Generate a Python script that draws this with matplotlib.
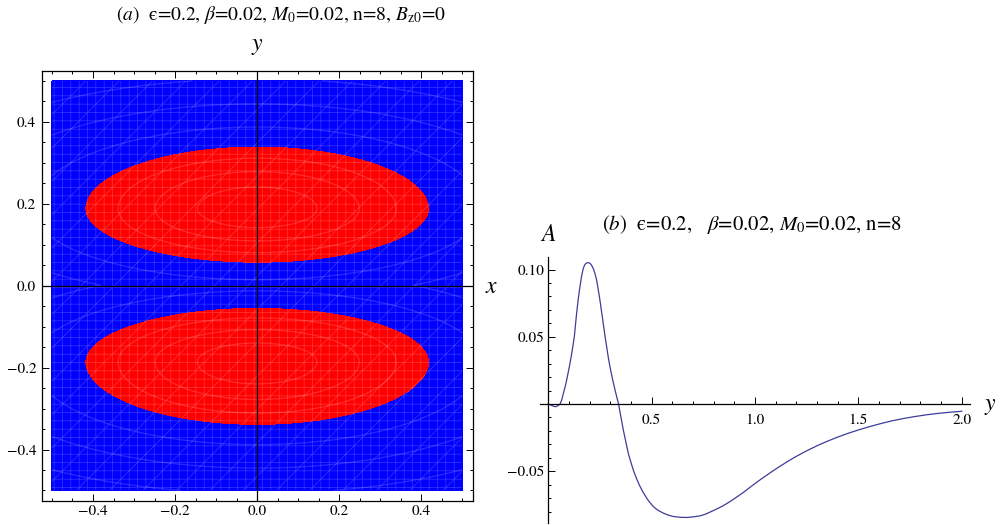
import numpy as np
import matplotlib
matplotlib.use("Agg")
import matplotlib.pyplot as plt
from matplotlib.patches import Rectangle
from matplotlib.ticker import FixedLocator, FixedFormatter

plt.rcParams["font.family"] = ["STIXGeneral", "DejaVu Serif"]
plt.rcParams["mathtext.fontset"] = "stix"
plt.rcParams["hatch.linewidth"] = 0.5

# ---- panel (a): two red lobes inside a blue square ----
lobe_cx = [0.0, 0.0]
lobe_cy = [0.188, -0.186]          # height of widest point
lobe_half_w = [0.42, 0.42]
lobe_top = [0.341, -0.053]
lobe_bottom = [0.055, -0.341]
box_half = 0.5
ring_levels = [0.12, 0.35, 0.65, 1.7, 2.8, 4.3]

# ---- panel (b): A(y) ----
curve_y = [0.0, 0.008, 0.016, 0.026, 0.037, 0.047, 0.057, 0.065, 0.073, 0.081,
           0.089, 0.097, 0.105, 0.115, 0.126, 0.137, 0.145, 0.153, 0.161, 0.169,
           0.176, 0.182, 0.188, 0.1935, 0.200, 0.206, 0.212, 0.218, 0.226, 0.234,
           0.242, 0.250, 0.258, 0.266, 0.274, 0.2825, 0.290, 0.2985, 0.310, 0.323,
           0.340, 0.350, 0.363, 0.375, 0.387, 0.399, 0.411, 0.427, 0.444, 0.460,
           0.476, 0.490, 0.508, 0.530, 0.557, 0.580, 0.605, 0.640, 0.670, 0.700,
           0.734, 0.760, 0.798, 0.840, 0.879, 0.940, 0.992, 1.030, 1.073, 1.110,
           1.153, 1.190, 1.234, 1.270, 1.315, 1.350, 1.395, 1.450, 1.500, 1.550,
           1.605, 1.660, 1.718, 1.770, 1.831, 1.890, 1.944, 2.0]
curve_A = [0.0, -0.0005, -0.001, -0.0017, -0.002, -0.0012, 0.0, 0.003, 0.0079, 0.0125,
           0.0178, 0.024, 0.0302, 0.039, 0.050, 0.0673, 0.078, 0.0871, 0.095, 0.1007,
           0.1035, 0.1046, 0.1051, 0.1052, 0.1048, 0.1040, 0.1025, 0.1007, 0.097, 0.0921,
           0.085, 0.0772, 0.0685, 0.0599, 0.051, 0.0425, 0.035, 0.0277, 0.019, 0.0104,
           0.0, -0.0085, -0.0193, -0.028, -0.0366, -0.043, -0.049, -0.0555, -0.0614, -0.066,
           -0.070, -0.073, -0.0763, -0.079, -0.0812, -0.0826, -0.0837, -0.0843, -0.0844, -0.0840,
           -0.0832, -0.0820, -0.0793, -0.0762, -0.0726, -0.0662, -0.0601, -0.0558, -0.0512, -0.0474,
           -0.0432, -0.0398, -0.0361, -0.0333, -0.0300, -0.0277, -0.0249, -0.0218, -0.0193, -0.0170,
           -0.0147, -0.0126, -0.0108, -0.0094, -0.0080, -0.0069, -0.0061, -0.0054]

W, H = 1004, 525
fig = plt.figure(figsize=(W / 100, H / 100), dpi=100)

def px(x, y):
    return x / W, 1 - y / H

# ---------------- left panel ----------------
ax1 = fig.add_axes([41.7 / W, (H - 500.7) / H, 431 / W, 430 / H])
xs = np.linspace(-box_half, box_half, 700)
X, Y = np.meshgrid(xs, xs)
field = np.full(X.shape, np.inf)
for cx, cy, a, t, b in zip(lobe_cx, lobe_cy, lobe_half_w, lobe_top, lobe_bottom):
    semi = np.where(Y > cy, t - cy, cy - b)
    r = ((X - cx) / a) ** 2 + ((Y - cy) / semi) ** 2
    field = np.minimum(field, r)
ax1.contourf(X, Y, field, levels=[0, 1, 1e9], colors=["#ff0000", "#0000ff"])
ax1.contour(X, Y, field, levels=ring_levels, colors=[(1, 1, 1, 0.15)], linewidths=1.0)
ax1.add_patch(Rectangle((-box_half, -box_half), 2 * box_half, 2 * box_half, fill=False,
                        hatch="++/", edgecolor=(1, 1, 1, 0.22), lw=0))
ax1.axhline(0, color="k", lw=0.9)
ax1.axvline(0, color="k", lw=0.9)
ax1.set_xlim(-0.525, 0.525)
ax1.set_ylim(-0.525, 0.525)
major = [-0.4, -0.2, 0.0, 0.2, 0.4]
minor = [v / 100 for v in range(-50, 51, 5)]
for axis in (ax1.xaxis, ax1.yaxis):
    axis.set_major_locator(FixedLocator(major))
    axis.set_minor_locator(FixedLocator(minor))
    axis.set_major_formatter(FixedFormatter(["\u22120.4", "\u22120.2", "0.0", "0.2", "0.4"]))
ax1.tick_params(which="both", direction="in", top=True, right=True, width=0.7, labelsize=11)
ax1.tick_params(which="major", length=5)
ax1.tick_params(which="minor", length=2.5)
ax1.tick_params(axis="x", pad=3)
ax1.tick_params(axis="y", pad=4)
for s in ax1.spines.values():
    s.set_linewidth(0.9)

fig.text(*px(281, 15), r"($a$)  ϵ=0.2, $\beta$=0.02, $M_0$=0.02, n=8, $B_{\rm z0}$=0",
         ha="center", va="center", fontsize=14)
fig.text(*px(257, 46), r"$y$", ha="center", va="center", fontsize=17)
fig.text(*px(492, 287), r"$x$", ha="center", va="center", fontsize=17)

# ---------------- right panel ----------------
ax2 = fig.add_axes([540 / W, (H - 522.7) / H, 430 / W, 266 / H])
ax2.plot(curve_y, curve_A, color="#3d3d99", lw=0.9)
ax2.set_xlim(-0.04, 2.04)
ax2.set_ylim(-0.0883, 0.1096)
ax2.spines["left"].set_position(("data", 0))
ax2.spines["bottom"].set_position(("data", 0))
ax2.spines["top"].set_visible(False)
ax2.spines["right"].set_visible(False)
ax2.xaxis.set_major_locator(FixedLocator([0.5, 1.0, 1.5, 2.0]))
ax2.xaxis.set_major_formatter(FixedFormatter(["0.5", "1.0", "1.5", "2.0"]))
ax2.xaxis.set_minor_locator(FixedLocator([v / 10 for v in range(1, 21)]))
ax2.yaxis.set_major_locator(FixedLocator([-0.05, 0.05, 0.10]))
ax2.yaxis.set_major_formatter(FixedFormatter(["\u22120.05", "0.05", "0.10"]))
ax2.yaxis.set_minor_locator(FixedLocator([v / 100 for v in range(-8, 11)]))
ax2.tick_params(which="both", direction="in", width=0.7, labelsize=11)
ax2.tick_params(which="major", length=5)
ax2.tick_params(which="minor", length=2.5)
ax2.tick_params(axis="x", pad=7)
ax2.tick_params(axis="y", pad=3)
for s in ax2.spines.values():
    s.set_linewidth(0.9)

fig.text(*px(752, 225), r"($b$)  ϵ=0.2,   $\beta$=0.02, $M_0$=0.02, n=8",
         ha="center", va="center", fontsize=15)
fig.text(*px(548, 235), r"$A$", ha="center", va="center", fontsize=17)
fig.text(*px(990, 406), r"$y$", ha="center", va="center", fontsize=17)

fig.savefig("out.png", dpi=100)
